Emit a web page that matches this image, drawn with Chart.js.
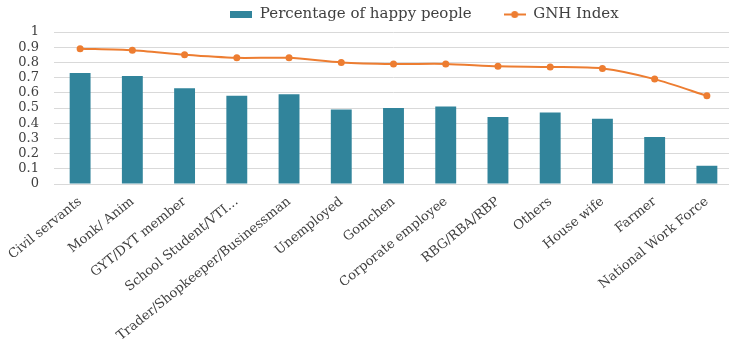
<!DOCTYPE html>
<html>
<head>
<meta charset="utf-8">
<script src="https://cdn.jsdelivr.net/npm/chart.js@4/dist/chart.umd.min.js"></script>
<style>
  html, body { margin: 0; padding: 0; background: #fff; overflow: hidden; }
  #wrap { width: 737px; height: 345px; }
</style>
</head>
<body>
<div id="wrap"><canvas id="gnhChart" width="737" height="345"></canvas></div>
<script>
const categories = [
    'Civil servants', 'Monk/ Anim', 'GYT/DYT member', 'School Student/VTI…',
    'Trader/Shopkeeper/Businessman', 'Unemployed', 'Gomchen', 'Corporate employee',
    'RBG/RBA/RBP', 'Others', 'House wife', 'Farmer', 'National Work Force'
];
const happyPct = [0.73, 0.71, 0.63, 0.58, 0.59, 0.49, 0.50, 0.51, 0.44, 0.47, 0.43, 0.31, 0.12];
const gnhIndex = [0.89, 0.88, 0.85, 0.83, 0.83, 0.80, 0.79, 0.79, 0.775, 0.77, 0.76, 0.69, 0.58];
const yTicks = [0, 0.1, 0.2, 0.3, 0.4, 0.5, 0.6, 0.7, 0.8, 0.9, 1];

const teal = '#31849b';
const orange = '#ed7d31';
const textColor = '#404040';
const serif = "'DejaVu Serif', serif";

// little legend swatches: a flat bar and a line with a dot
function makeSwatch(kind) {
    const c = document.createElement('canvas');
    c.width = 22;
    c.height = 9;
    const g = c.getContext('2d');
    if (kind === 'bar') {
        g.fillStyle = teal;
        g.fillRect(0, 1, 22, 7);
    } else {
        g.strokeStyle = orange;
        g.lineWidth = 2;
        g.beginPath();
        g.moveTo(0, 4.5);
        g.lineTo(22, 4.5);
        g.stroke();
        g.fillStyle = orange;
        g.beginPath();
        g.arc(11, 4.5, 3.5, 0, Math.PI * 2);
        g.fill();
    }
    return c;
}
const swatches = [makeSwatch('bar'), makeSwatch('line')];

// the original legend sits right of centre
const legendShift = {
    id: 'legendShift',
    afterLayout(chart) {
        const lg = chart.legend;
        if (lg) {
            lg.left += 56;
            lg.right += 56;
        }
    }
};

const ctx = document.getElementById('gnhChart').getContext('2d');

new Chart(ctx, {
    type: 'bar',
    data: {
        labels: categories,
        datasets: [
            {
                type: 'bar',
                label: 'Percentage of happy people',
                data: happyPct,
                backgroundColor: teal,
                barPercentage: 0.8,
                categoryPercentage: 0.5,
                order: 2
            },
            {
                type: 'line',
                label: 'GNH Index',
                data: gnhIndex,
                borderColor: orange,
                backgroundColor: orange,
                borderWidth: 2,
                pointRadius: 3.5,
                pointBackgroundColor: orange,
                pointBorderWidth: 0,
                tension: 0.25,
                fill: false,
                order: 1
            }
        ]
    },
    options: {
        responsive: false,
        animation: false,
        layout: { padding: { top: -25, left: 0, right: 0, bottom: 0 } },
        scales: {
            x: {
                grid: { display: false },
                border: { color: '#d9d9d9' },
                ticks: {
                    color: textColor,
                    font: { family: serif, size: 13 },
                    minRotation: 39,
                    maxRotation: 39,
                    autoSkip: false,
                    padding: 2
                },
                afterFit: scale => { scale.height = 161; }
            },
            y: {
                min: 0,
                max: 1,
                afterBuildTicks: scale => {
                    scale.ticks = yTicks.map(v => ({ value: v }));
                },
                grid: { color: '#d9d9d9', drawTicks: false },
                border: { display: false },
                ticks: {
                    color: textColor,
                    font: { family: serif, size: 13 },
                    padding: 15,
                    autoSkip: false,
                    callback: v => String(v)
                },
                afterFit: scale => { scale.width = 54; }
            }
        },
        plugins: {
            tooltip: { enabled: false },
            legend: {
                position: 'top',
                align: 'center',
                labels: {
                    color: textColor,
                    font: { family: serif, size: 15 },
                    usePointStyle: true,
                    pointStyleWidth: 22,
                    boxHeight: 9,
                    padding: 32,
                    sort: (a, b) => a.datasetIndex - b.datasetIndex,
                    generateLabels: chart => {
                        const items = Chart.defaults.plugins.legend.labels.generateLabels(chart);
                        items.forEach(item => {
                            item.pointStyle = swatches[item.datasetIndex];
                        });
                        return items;
                    }
                }
            }
        }
    },
    plugins: [legendShift]
});
</script>
</body>
</html>
